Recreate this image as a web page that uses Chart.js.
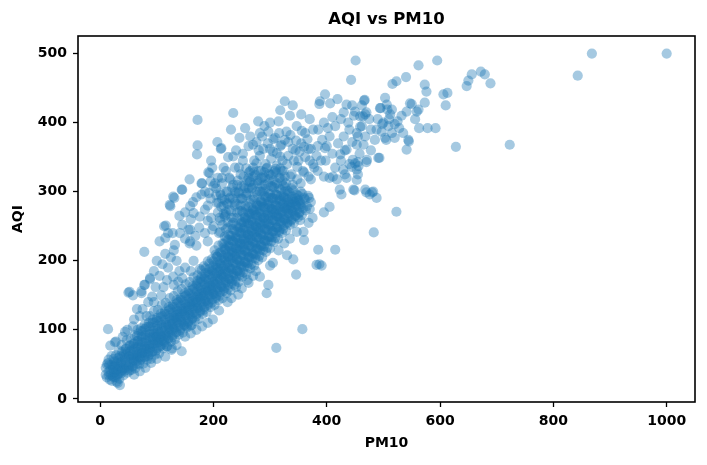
<!DOCTYPE html>
<html><head><meta charset="utf-8">
<script src="https://cdn.jsdelivr.net/npm/chart.js@4.4.1/dist/chart.umd.min.js"></script>
<style>html,body{margin:0;padding:0;background:#fff;}</style>
</head><body>
<canvas id="c" width="707" height="465"></canvas>
<script>
// [PM10, AQI] pairs
const bandLow = [
[12,31],[15,39],[10,45],[17,28],[14,52],
[21,26],[19,35],[23,43],[20,49],[24,58],[22,33],
[27,31],[29,41],[26,47],[31,55],[28,63],[31,23],[25,38],
[34,29],[36,39],[33,47],[37,53],[35,62],[39,68],[32,36],
[41,34],[43,44],[40,50],[44,59],[42,65],[46,73],[39,42],
[48,38],[50,47],[47,53],[51,62],[49,68],[53,77],[47,85],[52,41],
[55,42],[57,48],[54,58],[58,63],[56,73],[60,80],[54,87],[59,55],
[62,44],[64,54],[61,59],[66,68],[63,75],[67,84],[61,92],[65,62],
[69,50],[71,56],[68,65],[73,71],[70,81],[74,88],[68,95],[72,102],[70,60],
[76,51],[78,61],[75,67],[80,76],[77,82],[81,92],[75,98],[79,108],[77,72],
[83,57],[85,62],[82,72],[87,78],[84,88],[88,94],[82,104],[86,110],[84,66],
[90,58],[92,68],[89,74],[94,84],[91,89],[95,99],[89,105],[93,115],[88,120],[91,79],
[97,64],[99,70],[96,80],[101,85],[98,95],[102,101],[96,111],[100,117],[95,127],[99,90],
[104,66],[106,76],[103,82],[108,91],[105,97],[109,107],[103,113],[107,123],[102,129],[105,87],
[111,73],[113,79],[110,89],[115,94],[112,104],[116,110],[110,120],[114,126],[109,136],[112,84],
[118,76],[120,86],[117,92],[122,101],[119,107],[123,117],[117,123],[121,133],[116,139],[120,96]
];
const bandMid = [
[125,83],[127,89],[124,99],[129,104],[126,114],[130,120],[124,130],[128,136],[123,146],[127,109],
[132,86],[134,96],[131,102],[136,111],[133,117],[137,127],[131,133],[135,143],[130,149],[134,122],
[139,93],[141,99],[138,109],[143,114],[140,124],[144,130],[138,140],[142,146],[137,156],[141,118],
[146,96],[148,106],[145,112],[150,121],[147,127],[151,137],[145,143],[149,153],[144,159],[148,131],
[153,103],[155,109],[152,119],[157,124],[154,134],[158,140],[152,150],[156,156],[151,166],[155,128],
[160,106],[162,116],[159,122],[164,131],[161,137],[165,147],[159,153],[163,163],[158,169],[162,141],
[167,113],[169,119],[166,129],[171,134],[168,144],[172,150],[166,160],[170,166],[165,176],[169,139],
[174,116],[176,126],[173,132],[178,141],[175,147],[179,157],[173,163],[177,173],[172,179],[176,188],[175,152],
[181,123],[183,129],[180,139],[185,144],[182,154],[186,160],[180,170],[184,176],[179,186],[183,192],[182,149],
[188,126],[190,136],[187,142],[192,151],[189,157],[193,167],[187,173],[191,183],[186,189],[190,199],[189,162],
[195,133],[197,139],[194,149],[199,154],[196,164],[200,170],[194,180],[198,186],[193,196],[197,202],[196,158],
[202,136],[204,146],[201,152],[206,161],[203,167],[207,177],[201,183],[205,193],[200,199],[204,209],[202,215],[203,172],
[209,143],[211,149],[208,159],[213,164],[210,174],[214,180],[208,190],[212,196],[207,206],[211,212],[209,222],[210,185],
[216,146],[218,156],[215,162],[220,171],[217,177],[221,187],[215,193],[219,203],[214,209],[218,219],[216,225],[220,235],[217,182],
[223,153],[225,159],[222,169],[227,174],[224,184],[228,190],[222,200],[226,206],[221,216],[225,222],[223,232],[227,238],[224,195],
[230,157],[232,167],[229,173],[234,182],[231,188],[235,198],[229,204],[233,214],[228,220],[232,230],[230,236],[234,246],[231,209],
[237,165],[239,171],[236,181],[241,186],[238,196],[242,202],[236,212],[240,218],[235,228],[239,234],[237,244],[241,250],[238,207]
];
const bandHigh = [
[244,169],[246,179],[243,185],[248,194],[245,200],[249,210],[243,216],[247,226],[242,232],[246,242],[244,248],[248,258],[245,221],
[251,177],[253,183],[250,193],[255,198],[252,208],[256,214],[250,224],[254,230],[249,240],[253,246],[251,256],[255,262],[250,272],[252,219],
[258,181],[260,191],[257,197],[262,206],[259,212],[263,222],[257,228],[261,238],[256,244],[260,254],[258,260],[262,270],[257,276],[259,233],
[265,189],[267,195],[264,205],[269,210],[266,220],[270,226],[264,236],[268,242],[263,252],[267,258],[265,268],[269,274],[264,284],[266,231],
[272,193],[274,203],[271,209],[276,218],[273,224],[277,234],[271,240],[275,250],[270,256],[274,266],[272,272],[276,282],[271,288],[273,245],
[279,201],[281,207],[278,217],[283,222],[280,232],[284,238],[278,248],[282,254],[277,264],[281,270],[279,280],[283,286],[278,296],[280,243],
[286,205],[288,215],[285,221],[290,230],[287,236],[291,246],[285,252],[289,262],[284,268],[288,278],[286,284],[290,294],[285,300],[287,257],
[293,213],[295,219],[292,229],[297,234],[294,244],[298,250],[292,260],[296,266],[291,276],[295,282],[293,292],[297,298],[294,255],
[300,218],[302,228],[299,234],[304,243],[301,249],[305,259],[299,265],[303,275],[298,281],[302,291],[300,297],[304,307],[301,270],
[307,227],[309,233],[306,243],[311,248],[308,258],[312,264],[306,274],[310,280],[305,290],[309,296],[307,306],[308,269],
[314,232],[316,242],[313,248],[318,257],[315,263],[319,273],[313,279],[317,289],[312,295],[316,305],[315,268],
[321,240],[323,246],[320,256],[325,261],[322,271],[326,277],[320,287],[324,293],[319,303],[323,309],[322,282],
[328,244],[330,254],[327,260],[332,269],[329,275],[333,285],[327,291],[331,301],[326,307],[330,280],
[335,252],[337,258],[334,268],[339,273],[336,283],[340,289],[334,299],[338,305],[336,278],
[342,255],[344,265],[341,271],[346,280],[343,286],[347,296],[341,302],[344,291],
[349,263],[351,269],[348,279],[353,284],[350,294],[354,300],[350,287],
[356,266],[358,276],[355,282],[360,291],[357,297],
[363,273],[365,279],[362,289],[367,294],
[370,275],[372,285],[369,291]
];
const bandCore = [
[16,34],[18,42],[16,49],
[24,31],[25,39],[23,47],[25,54],
[30,34],[32,43],[30,51],[32,59],
[37,37],[39,45],[37,53],[38,61],
[44,41],[46,49],[44,57],[46,65],[45,72],
[51,45],[53,53],[51,61],[53,69],[52,77],
[58,47],[60,56],[58,64],[60,72],[59,80],
[65,51],[67,60],[65,68],[67,76],[66,84],[65,91],
[72,58],[74,66],[72,74],[74,82],[73,90],[72,98],
[79,60],[81,68],[79,76],[81,85],[80,93],[79,101],
[86,64],[88,72],[86,80],[88,89],[87,97],[86,105],
[93,69],[95,77],[93,86],[95,94],[94,102],[93,110],
[100,73],[102,81],[100,90],[102,98],[101,106],[100,114],
[107,77],[109,85],[107,94],[109,102],[108,110],[107,118],
[114,82],[116,90],[114,99],[116,107],[115,115],[114,123],
[121,88],[123,96],[121,104],[123,112],[122,120],[121,128],
[128,92],[130,100],[128,109],[130,117],[129,125],[128,133],
[135,97],[137,105],[135,114],[137,122],[136,130],[135,138],
[142,102],[144,110],[142,119],[144,127],[143,135],[142,143],
[149,107],[151,115],[149,124],[151,132],[150,140],[149,148],
[156,112],[158,120],[156,129],[158,137],[157,145],[156,153],
[163,117],[165,125],[163,134],[165,142],[164,150],[163,158],
[170,123],[172,131],[170,140],[172,148],[171,156],[170,164],[172,171],
[177,128],[179,136],[177,145],[179,153],[178,161],[177,169],[179,177],
[184,133],[186,141],[184,150],[186,158],[185,166],[184,174],[186,182],
[191,139],[193,147],[191,156],[193,164],[192,172],[191,180],[193,188],
[198,144],[200,152],[198,161],[200,169],[199,177],[198,185],[200,193],
[205,149],[207,157],[205,166],[207,174],[206,182],[205,190],[207,198],[206,206],
[212,155],[214,163],[212,172],[214,180],[213,188],[212,196],[214,204],[213,212],
[219,160],[221,168],[219,177],[221,185],[220,193],[219,201],[221,209],[220,217],[219,225],
[226,165],[228,173],[226,182],[228,190],[227,198],[226,206],[228,214],[227,222],[226,230],
[233,171],[235,179],[233,188],[235,196],[234,204],[233,212],[235,220],[234,228],[233,236],
[240,177],[242,185],[240,194],[242,202],[241,210],[240,218],[242,226],[241,234],[240,242],
[247,183],[249,191],[247,200],[249,208],[248,216],[247,224],[249,232],[248,240],[247,248],[249,254],
[254,191],[256,199],[254,208],[256,216],[255,224],[254,232],[256,240],[255,248],[254,256],[256,262],
[261,197],[263,205],[261,214],[263,222],[262,230],[261,238],[263,246],[262,254],[261,262],[263,268],
[268,203],[270,211],[268,220],[270,228],[269,236],[268,244],[270,252],[269,260],[268,268],[270,274],
[275,209],[277,217],[275,226],[277,234],[276,242],[275,250],[277,258],[276,266],[275,274],[277,280],
[282,215],[284,223],[282,232],[284,240],[283,248],[282,256],[284,264],[283,272],[282,280],[284,286],
[289,221],[291,229],[289,238],[291,246],[290,254],[289,262],[291,270],[290,278],[289,286],
[296,228],[298,236],[296,245],[298,253],[297,261],[296,269],[298,277],[297,285],[296,292],
[303,234],[305,242],[303,251],[305,259],[304,267],[303,275],[305,283],[304,291],
[310,240],[312,248],[310,257],[312,265],[311,273],[310,281],[312,289],[311,296],
[317,245],[319,253],[317,262],[319,270],[318,278],[317,286],[319,294],
[324,251],[326,259],[324,268],[326,276],[325,284],[324,292],[326,300],
[331,256],[333,264],[331,273],[333,281],[332,289],[331,297],
[338,260],[340,268],[338,277],[340,285],[339,293],
[345,265],[347,273],[345,282],[347,290],
[352,270],[354,278],[352,287]
];
const upperCore = [
[212,242],[216,252],[211,262],[218,268],[214,278],[220,288],[213,295],
[222,246],[226,256],[221,266],[228,274],[224,284],[230,292],[223,300],
[232,252],[236,262],[231,272],[238,280],[234,290],[240,298],[233,306],
[242,262],[246,272],[241,282],[248,290],[244,300],[250,308],[243,316],
[252,270],[256,280],[251,290],[258,298],[254,308],[260,316],[253,322],
[262,278],[266,288],[261,298],[268,306],[264,314],[270,322],[263,328],
[272,292],[276,300],[271,310],[278,316],[274,324],[280,330],
[282,300],[286,308],[281,316],[288,322],[284,330],
[292,304],[296,312],[291,320],[298,326],[294,334],
[302,308],[306,316],[301,324],[308,330],
[312,312],[316,320],[311,328],[318,334],
[322,316],[326,322],[321,330]
];
const upperBranch = [
[172,404],[235,414],[231,390],[246,378],[279,402],[300,400],[315,402],[265,380],[282,385],[297,387],[309,378],[329,387],[347,395],[362,385],[376,390],[326,431],[290,395],[256,392],[335,410],[355,412],[318,418],[340,425],[370,405],
[172,367],[171,354],[213,362],[214,363],[270,368],[226,350],[240,360],[252,355],[262,366],[288,362],[305,358],[318,366],[332,372],[345,360],[355,370],[368,362],[384,366],[235,351],[276,341],[318,351],[196,345],[207,372],
[158,318],[180,312],[191,328],[193,327],[200,308],[212,298],[222,330],[230,318],[242,310],[248,325],[258,334],[265,315],[272,328],[285,320],[295,335],[305,325],[312,338],[324,330],[336,322],[348,336],[360,328],[372,318],[384,330],[395,322],[215,320],[238,335],[262,305],[290,310],[340,310],[354,312],[376,340],[390,345],
[129,293],[123,281],[131,291],[124,279],[145,303],[144,303],[159,279],[164,285],[165,269],[179,296],[179,312],[185,274],[206,284],[209,284],[176,264],[150,270],[170,292],[190,280],[196,262],[215,290],[225,282],[160,260],[140,265],[192,298],[208,270],[220,264],[203,312],
[113,250],[159,245],[115,233],[132,223],[158,225],[141,240],[116,251],[156,245],[159,228],[128,240],[145,252],[168,236],[175,248],[185,240],[190,228],[170,222],[150,232],[120,240],[105,228],[198,245],
[185,300],[195,315],[205,305],[215,312],[225,300],[235,310],[245,298],[255,305],[195,290],[205,295],[218,280],[228,290],[238,285],[248,280],[222,270],[232,262],[242,270],[212,258],[200,250],[190,258],[210,240],[225,248],[235,255],[250,290],[258,295],[238,300],[228,320],[218,335],[208,320],[198,335],[245,335],[252,345],[262,320],[265,330],
[268,305],[278,312],[288,300],[298,318],[308,310],[318,320],[328,312],[338,325],[348,318],[358,330],[368,322],[378,335],[272,345],[282,352],[292,340],[302,348],[312,356],[322,345],[332,352],[342,345],[352,358],[362,350],[372,362],[382,352],[276,372],[286,380],[296,370],[306,376],[316,385],[326,375],[336,382],[346,374],[356,388],[366,376],[270,335],[290,328],[310,333],[330,340],[350,345],[370,345],[280,360],[300,362],[320,368],[340,362],[360,365]
];
const leftFringe = [
[78,213],[52,155],[58,150],[73,156],[88,173],[78,165],[50,154],[73,153],[88,175],[118,172],[129,177],[79,165],[95,185],[105,178],[110,195],[98,162],[120,190],[125,205],[100,200],[115,210],[135,200],[140,185],[130,215],[92,148],[65,130],[70,120],[60,115],[48,100],[44,97],[40,90],[85,140],[58,105],[75,130],[95,140],[108,150],[130,165],[145,175],[150,190],[165,200],[160,185],[138,170],[112,162],[82,120],[66,100],[38,78],[33,70]
];
const upperRight = [
[397,441],[419,434],[435,426],[387,427],[406,428],[388,431],[467,433],[494,421],[503,436],[506,426],[515,419],[547,428],[562,419],[541,416],[544,375],[541,361],[491,349],[500,400],[509,395],[497,387],[503,378],[488,390],[400,366],[397,363],[424,354],[435,361],[468,380],[471,346],[456,337],[464,409],[459,394],[455,380],[453,368],[446,346],[444,336],[453,332],[455,343],[470,343],[453,385],[449,302],[470,299],[480,299],[488,291],[493,349],[545,373],[563,392],[578,392],[592,392],[610,425],[606,441],[613,443],[573,429],[573,455],[576,445],[559,416],[556,405],[550,427],[562,483],[595,490],[451,490],[540,466],[523,460],[516,456],[647,453],[650,461],[656,470],[672,474],[679,470],[689,457],[443,462],[466,432],[495,421],[507,419],
[510,405],[520,398],[528,392],[515,385],[505,375],[520,378],[532,410],[498,398],[512,412],[525,402],[535,385],
[405,320],[415,335],[425,345],[410,355],[420,370],[430,380],[440,390],[415,395],[405,380],[398,345],[432,360],[445,372],[458,355],[462,395],[475,405],[470,415],[448,410],[438,400],[425,405],[410,408],[395,400],[385,390],[392,375],[402,392],[418,318],[432,325],[440,340],[455,325],[465,368],[478,360],[485,375],[478,390],[490,405],[462,425],[445,425],[430,415],[426,296],[447,303],[453,317],[429,332],[450,341],[411,322],[435,320],[423,303],[468,303],[482,300],[476,296],[450,416],[459,409],[468,412]
];
const lowerFringe = [
[357,101],[311,74],[199,115],[144,69],[150,90],[127,73],[115,61],[162,107],[153,105],[126,71],[118,76],[232,146],[244,151],[262,168],[294,153],[297,165],[282,177],[346,180],[341,202],[387,195],[391,193],[385,216],[415,216],[305,197],[300,193],[353,259],[359,242],[347,242],[382,194],[275,185],[260,172],[250,160],[225,140],[210,128],[190,110],[180,105],[170,100],[160,95],[135,78],[100,58],[90,52],[80,45],[70,40],[60,35],[325,225],[335,232],[315,215],[368,255],[375,262],[395,270],[405,278],[360,230],[330,208],[270,178],[240,162],[14,101],[26,82],[18,77],[10,35],[35,20],[26,49],[28,83],[15,57],[29,25],[20,62],[12,50]
];
const outliers = [[628,365],[723,368],[843,468],[868,500],[1000,500],[523,271],[483,241]];

const xTickValues = [0, 200, 400, 600, 800, 1000];
const yTickValues = [0, 100, 200, 300, 400, 500];
const xRange = [-39, 1050];
const yRange = [-4.5, 525.5];

const allPoints = [].concat(bandLow, bandMid, bandHigh, bandCore, upperCore, upperBranch, leftFringe, upperRight, lowerFringe, outliers)
  .map(([x, y]) => ({x, y}));

const FONT = 'DejaVu Sans';
const frame = {
  id: 'frame',
  afterDatasetsDraw(chart) {
    const {ctx, chartArea: a} = chart;
    ctx.save();
    ctx.strokeStyle = '#000';
    ctx.lineWidth = 1.6;
    ctx.strokeRect(a.left, a.top, a.right - a.left, a.bottom - a.top);
    ctx.restore();
  }
};

new Chart(document.getElementById('c'), {
  type: 'scatter',
  data: {datasets: [{
    label: 'AQI', data: allPoints,
    backgroundColor: 'rgba(31,119,180,0.4)', borderWidth: 0,
    pointRadius: 5.1, pointHoverRadius: 5.1
  }]},
  plugins: [frame],
  options: {
    responsive: false, animation: false,
    layout: {padding: {left: 0, right: 12, top: 0, bottom: 0}},
    plugins: {legend: {display: false}, tooltip: {enabled: false}, title: {display: false}},
    scales: {
      x: {
        type: 'linear', min: xRange[0], max: xRange[1],
        afterBuildTicks: s => { s.ticks = xTickValues.map(v => ({value: v})); },
        afterFit: s => { s.height = 63; },
        grid: {display: true, drawOnChartArea: false, drawTicks: true, tickLength: 5, tickWidth: 1.3, tickColor: '#000'},
        border: {display: false},
        ticks: {color: '#000', font: {family: FONT, size: 14, weight: 'bold'}, padding: 5.6, maxRotation: 0, autoSkip: false, callback: v => String(v)},
        title: {display: true, text: 'PM10', color: '#000', font: {family: FONT, size: 14, weight: 'bold'}, padding: {top: 0, bottom: 13.2}}
      },
      xTop: {
        type: 'linear', axis: 'x', position: 'top', min: xRange[0], max: xRange[1],
        afterFit: s => { s.height = 36; },
        grid: {display: false}, border: {display: false},
        ticks: {display: false},
        title: {display: true, text: 'AQI vs PM10', color: '#000', font: {family: FONT, size: 16.5, weight: 'bold'}, padding: {top: 9.6, bottom: 0}}
      },
      y: {
        type: 'linear', min: yRange[0], max: yRange[1],
        afterBuildTicks: s => { s.ticks = yTickValues.map(v => ({value: v})); },
        afterFit: s => { s.width = 78; },
        grid: {display: true, drawOnChartArea: false, drawTicks: true, tickLength: 5, tickWidth: 1.3, tickColor: '#000'},
        border: {display: false},
        ticks: {color: '#000', font: {family: FONT, size: 14, weight: 'bold'}, padding: 6, autoSkip: false, callback: v => String(v)},
        title: {display: true, text: 'AQI', color: '#000', font: {family: FONT, size: 14, weight: 'bold'}, padding: {top: 9.9, bottom: 0}}
      }
    }
  }
});
</script>
</body></html>
